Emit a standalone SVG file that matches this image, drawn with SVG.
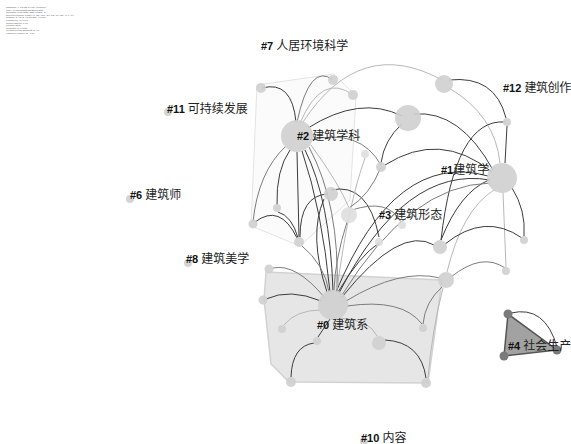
<svg xmlns="http://www.w3.org/2000/svg" width="571" height="444" viewBox="0 0 571 444">
<style>
.hdr{font-family:"Liberation Sans",Arial,sans-serif;font-size:2.3px;fill:#555}
.n{fill:#cfcfcf;fill-opacity:0.9}
.nl{fill:#dedede;fill-opacity:0.9}
.nd{fill:#7a7a7a}
.e{fill:none;stroke-width:1}
.d{stroke:#3c3c3c}
.m{stroke:#7c7c7c}
.l{stroke:#b8b8b8}
.num{font-family:"Liberation Sans",Arial,sans-serif;font-weight:bold;font-size:11px;fill:#111}
.zh{font-family:"Noto Sans CJK SC","Noto Sans CJK JP",sans-serif;font-size:12px;fill:#222}
</style>
<rect width="571" height="444" fill="#ffffff"/>
<g id="header">
<text class="hdr" x="6" y="8">CiteSpace, v. 5.8.R3 (64-bit) Advanced</text>
<text class="hdr" x="6" y="10.6">CNKI: C:\Users\data\CiteSpace\data</text>
<text class="hdr" x="6" y="13.2">Timespan: 1992-2021 (Slice Length=1)</text>
<text class="hdr" x="6" y="15.8">Selection Criteria: g-index (k=25), LRF=3.0, L/N=10, LBY=5, e=1.0</text>
<text class="hdr" x="6" y="18.4">Network: N=65, E=98 (Density=0.0471)</text>
<text class="hdr" x="6" y="21">Largest CC: 40 (61%)</text>
<text class="hdr" x="6" y="23.6">Nodes Labeled: 1.0%</text>
<text class="hdr" x="6" y="26.2">Pruning: None</text>
<text class="hdr" x="6" y="28.8">Modularity Q=0.6921</text>
<text class="hdr" x="6" y="31.4">Weighted Mean Silhouette S=0.9</text>
<text class="hdr" x="6" y="34">Harmonic Mean(Q, S)=0.78</text>
</g>
<g id="clusters">
<polygon points="257,85 334,74 356,96 350,200 300,246 251,226" fill="#f8f8f8" fill-opacity="0.5" stroke="#e4e4e4" stroke-width="1"/>
<polygon points="266,272 442,280 428,383 289,382 271,364 264,300" fill="#e6e6e6" stroke="#d2d2d2" stroke-width="1.5"/>
<polygon points="508,314 504,356 557,350" fill="#a2a2a2" stroke="#555555" stroke-width="1.5"/>
</g>
<g id="connectors">
<path class="e d" d="M262,88 Q292,80 296,122"/>
<path class="e m" d="M297,122 Q310,62 333,80"/>
<path class="e l" d="M300,123 Q322,72 353,95"/>
<path class="e l" d="M303,122 Q360,35 442,80"/>
<path class="e d" d="M308,128 Q360,95 402,116"/>
<path class="e d" d="M414,114 Q460,110 493,170"/>
<path class="e m" d="M310,140 Q360,128 381,165"/>
<path class="e m" d="M286,146 Q258,172 253,222"/>
<path class="e d" d="M290,150 Q276,170 277,205"/>
<path class="e d" d="M297,152 L299,237"/>
<path class="e d" d="M302,151 Q322,210 330,292"/>
<path class="e d" d="M305,150 Q330,200 333,291"/>
<path class="e m" d="M309,147 Q340,205 337,292"/>
<path class="e l" d="M311,145 Q340,185 349,208"/>
<path class="e d" d="M449,80 Q495,75 506,118"/>
<path class="e l" d="M449,88 Q495,115 500,163"/>
<path class="e d" d="M402,124 Q384,140 381,163"/>
<path class="e d" d="M385,165 Q440,130 492,172"/>
<path class="e d" d="M507,126 L505,163"/>
<path class="e d" d="M505,122 Q455,118 441,240"/>
<path class="e d" d="M512,188 Q526,210 524,236"/>
<path class="e l" d="M503,192 L506,267"/>
<path class="e l" d="M494,190 Q462,210 447,272"/>
<path class="e d" d="M441,240 Q460,192 489,180"/>
<path class="e d" d="M445,244 Q485,212 522,238"/>
<path class="e m" d="M451,277 Q482,252 505,268"/>
<path class="e d" d="M336,292 Q395,150 488,176"/>
<path class="e d" d="M339,293 Q405,165 490,180"/>
<path class="e m" d="M342,295 Q410,185 490,183"/>
<path class="e d" d="M342,297 Q400,225 434,245"/>
<path class="e m" d="M346,301 Q400,268 440,278"/>
<path class="e d" d="M338,292 Q360,255 379,243"/>
<path class="e d" d="M331,190 Q368,182 379,237"/>
<path class="e m" d="M352,210 Q388,198 401,222"/>
<path class="e d" d="M324,199 Q308,235 327,292"/>
<path class="e m" d="M347,222 Q335,260 334,290"/>
<path class="e l" d="M365,158 Q348,205 337,290"/>
<path class="e d" d="M255,222 Q280,203 297,238"/>
<path class="e d" d="M278,212 Q292,216 298,238"/>
<path class="e m" d="M301,245 Q325,265 329,292"/>
<path class="e m" d="M381,167 Q370,195 349,208"/>
<path class="e d" d="M328,194 Q300,195 300,237"/>
<path class="e m" d="M325,298 Q296,263 273,268"/>
<path class="e d" d="M321,301 Q290,288 266,299"/>
<path class="e l" d="M321,310 Q296,310 284,325"/>
<path class="e d" d="M330,319 L318,337"/>
<path class="e m" d="M347,306 Q402,298 422,324"/>
<path class="e l" d="M340,318 Q370,320 377,336"/>
<path class="e d" d="M314,343 Q292,346 291,377"/>
<path class="e d" d="M385,340 Q421,342 426,378"/>
<path class="e m" d="M442,287 Q425,302 423,324"/>
<path class="e l" d="M443,288 Q432,330 428,378"/>
<path class="e d" d="M511,313 Q545,305 557,347"/>
</g>
<g id="nodes">
<g id="n-a"><circle class="n" cx="261" cy="88" r="5"/></g>
<g id="n-b"><circle class="n" cx="333" cy="80" r="5"/></g>
<g id="n-c"><circle class="n" cx="353" cy="95" r="5"/></g>
<g id="n-2"><circle class="n" cx="297" cy="136" r="16"/></g>
<g id="n-d"><circle class="n" cx="408" cy="118" r="13"/></g>
<g id="n-e"><circle class="n" cx="444" cy="84" r="9"/></g>
<g id="n-12"><circle class="n" cx="507" cy="122" r="4"/></g>
<g id="n-f"><circle class="n" cx="381" cy="167" r="5"/></g>
<g id="n-g"><circle class="nl" cx="365" cy="154" r="4"/></g>
<g id="n-1"><circle class="n" cx="502" cy="178" r="15"/></g>
<g id="n-h"><circle class="n" cx="331" cy="194" r="7"/></g>
<g id="n-i"><circle class="nl" cx="349" cy="215" r="8"/></g>
<g id="n-j"><circle class="n" cx="277" cy="208" r="4"/></g>
<g id="n-k"><circle class="n" cx="253" cy="224" r="4.5"/></g>
<g id="n-l"><circle class="n" cx="299" cy="242" r="5"/></g>
<g id="n-m"><circle class="nl" cx="379" cy="242" r="4"/></g>
<g id="n-3"><circle class="nl" cx="402" cy="225" r="4"/></g>
<g id="n-o"><circle class="n" cx="440" cy="247" r="7"/></g>
<g id="n-p"><circle class="n" cx="524" cy="240" r="4"/></g>
<g id="n-q"><circle class="n" cx="446" cy="280" r="8"/></g>
<g id="n-r"><circle class="n" cx="506" cy="271" r="4"/></g>
<g id="n-0"><circle class="n" cx="333" cy="305" r="15"/></g>
<g id="n-s"><circle class="n" cx="269" cy="269" r="4.5"/></g>
<g id="n-t"><circle class="n" cx="263" cy="300" r="4.5"/></g>
<g id="n-u"><circle class="n" cx="282" cy="329" r="4"/></g>
<g id="n-v"><circle class="n" cx="317" cy="341" r="4"/></g>
<g id="n-w"><circle class="n" cx="379" cy="343" r="7"/></g>
<g id="n-x"><circle class="n" cx="423" cy="328" r="4"/></g>
<g id="n-y"><circle class="n" cx="291" cy="382" r="5"/></g>
<g id="n-z"><circle class="n" cx="426" cy="383" r="5"/></g>
<g id="n-11"><circle class="n" cx="168" cy="112" r="4"/></g>
<g id="n-6"><circle class="n" cx="130" cy="199" r="4"/></g>
<g id="n-8"><circle class="n" cx="188" cy="263" r="4"/></g>
<g id="n-10"><circle class="n" cx="364" cy="441" r="4"/></g>
<g id="n-4a"><circle class="nd" cx="508" cy="314" r="4.5"/></g>
<g id="n-4b"><circle class="nd" cx="504" cy="356" r="4.5"/></g>
<g id="n-4c"><circle class="nd" cx="557" cy="350" r="4.5"/></g>
</g>
<g id="labels">
<text x="261" y="50"><tspan class="num">#7 </tspan><tspan class="zh">人居环境科学</tspan></text>
<text x="167" y="113"><tspan class="num">#11 </tspan><tspan class="zh">可持续发展</tspan></text>
<text x="297" y="140"><tspan class="num">#2 </tspan><tspan class="zh">建筑学科</tspan></text>
<text x="503" y="92"><tspan class="num">#12 </tspan><tspan class="zh" letter-spacing="-0.4">建筑创作</tspan></text>
<text x="441" y="174"><tspan class="num">#1</tspan><tspan class="zh">建筑学</tspan></text>
<text x="130" y="199"><tspan class="num">#6 </tspan><tspan class="zh">建筑师</tspan></text>
<text x="379" y="219"><tspan class="num">#3 </tspan><tspan class="zh">建筑形态</tspan></text>
<text x="186" y="263"><tspan class="num">#8 </tspan><tspan class="zh">建筑美学</tspan></text>
<text x="317" y="329"><tspan class="num">#0 </tspan><tspan class="zh">建筑系</tspan></text>
<text x="508" y="350"><tspan class="num">#4 </tspan><tspan class="zh">社会生产</tspan></text>
<text x="361" y="442"><tspan class="num">#10 </tspan><tspan class="zh">内容</tspan></text>
</g>
</svg>
